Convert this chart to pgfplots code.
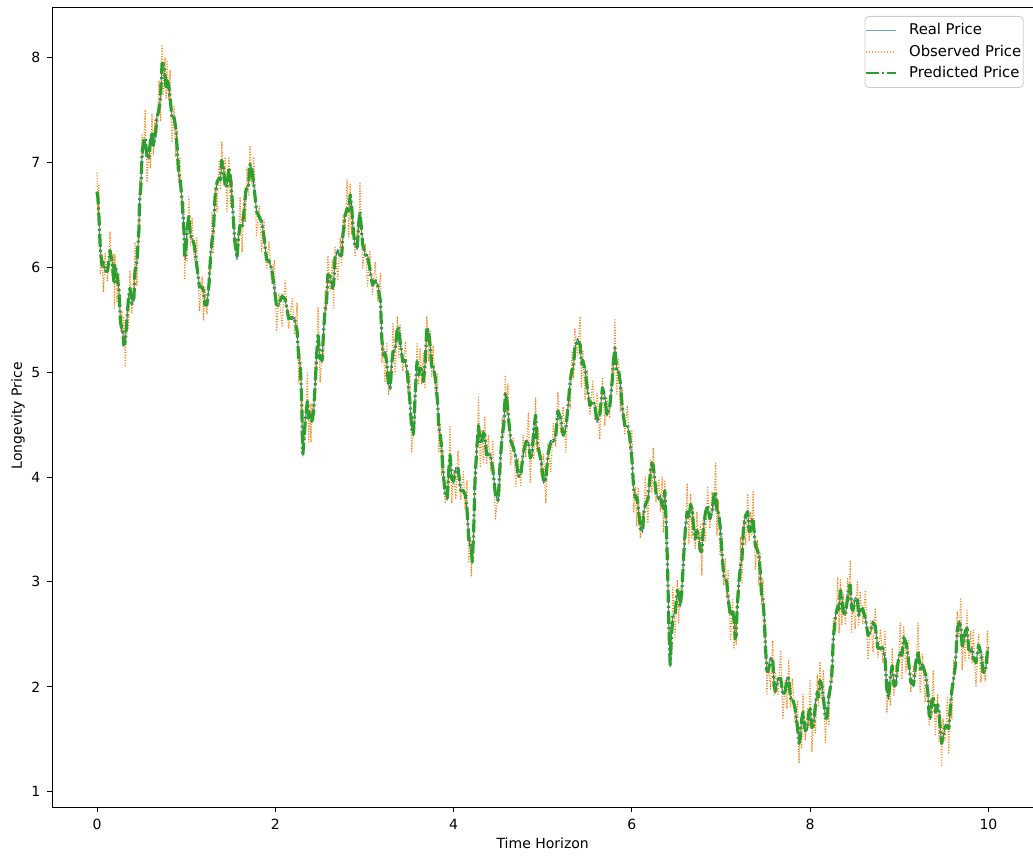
\documentclass[border=0pt]{standalone}
\usepackage{fontspec}
\setmainfont{DejaVu Sans}
\usepackage{pgfplots}
\usepackage{pgfplotstable}
\pgfplotsset{compat=1.18}

\definecolor{mplblue}{HTML}{1F77B4}
\definecolor{mplorange}{HTML}{FF7F0E}
\definecolor{mplgreen}{HTML}{2CA02C}
\definecolor{legendedge}{HTML}{CCCCCC}

% x = time, real / observed / predicted longevity price
\pgfplotstableread{
x real obs pred
0.000 6.70 6.90 6.72
0.010 6.68 6.52 6.66
0.020 6.50 6.78 6.51
0.038 6.17 5.93 6.16
0.056 6.00 6.12 6.02
0.073 6.06 5.76 6.04
0.090 5.95 6.13 5.96
0.118 5.97 5.87 5.96
0.146 6.14 6.34 6.16
0.168 6.08 5.92 6.06
0.190 5.85 6.13 5.86
0.195 5.85 5.61 5.84
0.200 6.00 6.12 6.02
0.223 5.96 5.66 5.94
0.247 5.76 5.94 5.77
0.263 5.49 5.39 5.48
0.280 5.38 5.58 5.40
0.290 5.40 5.24 5.38
0.300 5.25 5.53 5.26
0.318 5.30 5.06 5.29
0.337 5.50 5.62 5.52
0.353 5.72 5.42 5.70
0.370 5.79 5.97 5.80
0.392 5.66 5.56 5.65
0.415 5.69 5.89 5.71
0.420 5.90 5.74 5.88
0.426 5.95 6.23 5.96
0.448 6.06 5.82 6.05
0.470 6.33 6.45 6.35
0.475 6.57 6.27 6.55
0.480 6.65 6.83 6.66
0.492 6.78 6.68 6.77
0.505 7.06 7.26 7.08
0.522 7.22 7.06 7.20
0.540 7.22 7.50 7.23
0.562 7.05 6.81 7.04
0.584 7.03 7.15 7.05
0.600 7.24 6.94 7.22
0.617 7.28 7.46 7.29
0.633 7.17 7.07 7.16
0.650 7.22 7.42 7.24
0.673 7.44 7.28 7.42
0.696 7.50 7.78 7.51
0.713 7.63 7.39 7.62
0.730 7.92 8.12 7.94
0.746 7.95 7.65 7.93
0.763 7.82 8.00 7.83
0.775 7.71 7.61 7.70
0.786 7.76 7.96 7.78
0.803 7.76 7.60 7.74
0.820 7.60 7.88 7.61
0.842 7.43 7.19 7.42
0.864 7.41 7.53 7.43
0.882 7.35 7.05 7.33
0.900 7.12 7.30 7.13
0.915 6.90 6.80 6.89
0.930 6.84 7.04 6.86
0.953 6.67 6.51 6.65
0.976 6.33 6.61 6.34
0.983 6.12 5.88 6.11
0.990 6.07 6.19 6.09
1.010 6.36 6.06 6.34
1.030 6.49 6.67 6.50
1.048 6.30 6.20 6.29
1.066 6.27 6.47 6.29
1.093 6.22 6.06 6.20
1.120 6.00 6.28 6.01
1.150 5.82 5.58 5.81
1.180 5.79 5.91 5.81
1.195 5.79 5.49 5.77
1.210 5.63 5.81 5.64
1.233 5.65 5.55 5.64
1.257 5.82 6.02 5.84
1.273 6.11 5.95 6.09
1.290 6.24 6.52 6.25
1.307 6.37 6.13 6.36
1.324 6.65 6.77 6.67
1.347 6.83 6.53 6.81
1.370 6.84 7.02 6.85
1.385 6.84 6.74 6.83
1.400 7.00 7.20 7.02
1.418 6.97 6.81 6.95
1.437 6.77 7.05 6.78
1.458 6.77 6.53 6.76
1.480 6.93 7.05 6.95
1.497 6.87 6.57 6.85
1.515 6.65 6.83 6.66
1.543 6.28 6.18 6.27
1.570 6.07 6.27 6.09
1.588 6.31 6.15 6.29
1.605 6.39 6.67 6.40
1.628 6.38 6.14 6.37
1.650 6.52 6.64 6.54
1.667 6.73 6.43 6.71
1.683 6.77 6.95 6.78
1.700 6.79 6.69 6.78
1.717 6.96 7.16 6.98
1.738 6.95 6.79 6.93
1.760 6.77 7.05 6.78
1.790 6.54 6.30 6.53
1.820 6.46 6.58 6.48
1.847 6.45 6.15 6.43
1.874 6.27 6.45 6.28
1.902 6.08 5.98 6.07
1.930 6.04 6.24 6.06
1.960 6.00 5.84 5.98
1.990 5.79 6.07 5.80
2.015 5.63 5.39 5.62
2.040 5.63 5.75 5.65
2.075 5.74 5.44 5.72
2.110 5.69 5.87 5.70
2.150 5.52 5.42 5.51
2.190 5.50 5.70 5.52
2.218 5.52 5.36 5.50
2.245 5.38 5.66 5.39
2.263 5.14 4.90 5.13
2.280 5.05 5.17 5.07
2.290 4.90 4.60 4.88
2.300 4.58 4.76 4.59
2.305 4.31 4.21 4.30
2.310 4.20 4.40 4.22
2.335 4.54 4.38 4.52
2.360 4.71 4.99 4.72
2.375 4.57 4.33 4.56
2.390 4.58 4.70 4.60
2.400 4.63 4.33 4.61
2.410 4.52 4.70 4.53
2.430 4.63 4.53 4.62
2.450 4.90 5.10 4.92
2.465 5.20 5.04 5.18
2.480 5.34 5.62 5.35
2.503 5.14 4.90 5.13
2.525 5.09 5.21 5.11
2.543 5.43 5.13 5.41
2.560 5.60 5.78 5.61
2.575 5.68 5.58 5.67
2.590 5.91 6.11 5.93
2.615 5.93 5.77 5.91
2.640 5.79 6.07 5.80
2.655 5.85 5.61 5.84
2.670 6.07 6.19 6.09
2.700 6.17 5.87 6.15
2.730 6.10 6.28 6.11
2.745 6.12 6.02 6.11
2.760 6.30 6.50 6.32
2.783 6.51 6.35 6.49
2.806 6.55 6.83 6.56
2.823 6.53 6.29 6.52
2.840 6.67 6.79 6.69
2.855 6.61 6.31 6.59
2.870 6.39 6.57 6.40
2.895 6.20 6.10 6.19
2.920 6.17 6.37 6.19
2.935 6.43 6.27 6.41
2.950 6.52 6.80 6.53
2.980 6.23 5.99 6.22
3.010 6.10 6.22 6.12
3.035 6.12 5.82 6.10
3.060 5.98 6.16 5.99
3.090 5.84 5.74 5.83
3.120 5.85 6.05 5.87
3.150 5.84 5.68 5.82
3.180 5.66 5.94 5.67
3.195 5.33 5.09 5.32
3.210 5.15 5.27 5.17
3.230 5.20 4.90 5.18
3.250 5.09 5.27 5.10
3.270 4.88 4.78 4.87
3.290 4.83 5.03 4.85
3.305 5.09 4.93 5.07
3.320 5.18 5.46 5.19
3.345 5.22 4.98 5.21
3.370 5.41 5.53 5.43
3.385 5.43 5.13 5.41
3.400 5.28 5.46 5.29
3.430 5.11 5.01 5.10
3.460 5.09 5.29 5.11
3.485 4.98 4.82 4.96
3.510 4.71 4.99 4.72
3.530 4.47 4.23 4.46
3.550 4.39 4.51 4.41
3.570 4.82 4.52 4.80
3.590 5.09 5.27 5.10
3.608 4.98 4.88 4.97
3.625 5.02 5.22 5.04
3.643 5.04 4.88 5.02
3.660 4.90 5.18 4.91
3.680 5.08 4.84 5.07
3.700 5.41 5.53 5.43
3.720 5.40 5.10 5.38
3.740 5.22 5.40 5.23
3.755 5.06 4.96 5.05
3.770 5.05 5.25 5.07
3.795 4.96 4.80 4.94
3.820 4.71 4.99 4.72
3.835 4.47 4.23 4.46
3.850 4.39 4.51 4.41
3.865 4.31 4.01 4.29
3.880 4.07 4.25 4.08
3.905 3.85 3.75 3.84
3.930 3.78 3.98 3.80
3.945 4.07 3.91 4.05
3.960 4.20 4.48 4.21
3.980 3.99 3.75 3.98
4.000 3.94 4.06 3.96
4.025 4.09 3.79 4.07
4.050 4.07 4.25 4.08
4.080 3.88 3.78 3.87
4.110 3.85 4.05 3.87
4.130 3.85 3.69 3.83
4.150 3.69 3.97 3.70
4.170 3.42 3.18 3.41
4.190 3.31 3.43 3.33
4.200 3.33 3.05 3.31
4.210 3.18 3.36 3.19
4.225 3.48 3.38 3.47
4.240 3.94 4.14 3.96
4.260 4.29 4.13 4.27
4.280 4.48 4.76 4.49
4.300 4.33 4.09 4.32
4.320 4.33 4.45 4.35
4.335 4.44 4.14 4.42
4.350 4.39 4.57 4.40
4.370 4.22 4.12 4.21
4.390 4.20 4.40 4.22
4.415 4.22 4.06 4.20
4.440 4.07 4.35 4.08
4.470 3.84 3.60 3.83
4.500 3.76 3.88 3.78
4.523 4.16 3.86 4.14
4.545 4.39 4.57 4.40
4.563 4.50 4.40 4.49
4.580 4.77 4.97 4.79
4.595 4.77 4.61 4.75
4.610 4.61 4.89 4.62
4.640 4.36 4.12 4.35
4.670 4.26 4.38 4.28
4.698 4.21 3.91 4.19
4.725 4.00 4.18 4.01
4.753 4.02 3.92 4.01
4.780 4.20 4.40 4.22
4.810 4.35 4.19 4.33
4.840 4.33 4.61 4.34
4.860 4.19 3.95 4.18
4.880 4.20 4.32 4.22
4.900 4.47 4.17 4.45
4.920 4.58 4.76 4.59
4.935 4.34 4.24 4.33
4.950 4.26 4.46 4.28
4.980 4.18 4.02 4.16
5.010 3.94 4.22 3.95
5.035 3.99 3.75 3.98
5.060 4.20 4.32 4.22
5.090 4.35 4.05 4.33
5.120 4.33 4.51 4.34
5.145 4.39 4.29 4.38
5.170 4.61 4.81 4.63
5.200 4.58 4.42 4.56
5.230 4.39 4.67 4.40
5.260 4.47 4.23 4.46
5.290 4.71 4.83 4.73
5.310 4.95 4.65 4.93
5.330 5.02 5.20 5.03
5.345 5.04 4.94 5.03
5.360 5.22 5.42 5.24
5.390 5.32 5.16 5.30
5.420 5.25 5.53 5.26
5.435 5.09 4.85 5.08
5.450 5.09 5.21 5.11
5.475 5.04 4.74 5.02
5.500 4.83 5.01 4.84
5.530 4.69 4.59 4.68
5.560 4.71 4.91 4.73
5.585 4.70 4.54 4.68
5.610 4.52 4.80 4.53
5.640 4.60 4.36 4.59
5.670 4.83 4.95 4.85
5.695 4.79 4.49 4.77
5.720 4.58 4.76 4.59
5.750 4.66 4.56 4.65
5.780 4.90 5.10 4.92
5.795 5.14 4.98 5.12
5.810 5.22 5.50 5.23
5.830 5.03 4.79 5.02
5.850 5.00 5.12 5.02
5.870 4.92 4.62 4.90
5.890 4.67 4.85 4.68
5.920 4.50 4.40 4.49
5.950 4.48 4.68 4.50
5.975 4.41 4.25 4.39
6.000 4.17 4.45 4.18
6.020 3.90 3.66 3.89
6.040 3.78 3.90 3.80
6.055 3.83 3.53 3.81
6.070 3.72 3.90 3.73
6.095 3.52 3.42 3.51
6.120 3.47 3.67 3.49
6.135 3.68 3.52 3.66
6.150 3.72 4.00 3.73
6.180 3.80 3.56 3.79
6.210 4.04 4.16 4.06
6.225 4.15 3.85 4.13
6.240 4.10 4.28 4.11
6.270 3.86 3.76 3.85
6.300 3.78 3.98 3.80
6.320 3.83 3.67 3.81
6.340 3.72 4.00 3.73
6.355 3.71 3.47 3.70
6.370 3.85 3.97 3.87
6.385 3.58 3.28 3.56
6.400 3.15 3.33 3.16
6.415 2.59 2.49 2.58
6.430 2.19 2.39 2.21
6.445 2.51 2.35 2.49
6.460 2.67 2.95 2.68
6.485 2.71 2.47 2.70
6.510 2.90 3.02 2.92
6.525 2.91 2.61 2.89
6.540 2.76 2.94 2.77
6.560 2.91 2.81 2.90
6.580 3.21 3.41 3.23
6.600 3.52 3.36 3.50
6.620 3.66 3.94 3.67
6.640 3.61 3.37 3.60
6.660 3.72 3.84 3.74
6.675 3.71 3.41 3.69
6.690 3.53 3.71 3.54
6.710 3.42 3.32 3.41
6.730 3.47 3.67 3.49
6.750 3.46 3.30 3.44
6.770 3.28 3.56 3.29
6.785 3.30 3.06 3.29
6.800 3.47 3.59 3.49
6.825 3.68 3.38 3.66
6.850 3.72 3.90 3.73
6.875 3.61 3.51 3.60
6.900 3.66 3.86 3.68
6.920 3.84 3.68 3.82
6.940 3.85 4.13 3.86
6.955 3.68 3.44 3.67
6.970 3.66 3.78 3.68
6.990 3.55 3.25 3.53
7.010 3.28 3.46 3.29
7.030 3.07 2.97 3.06
7.050 3.02 3.22 3.04
7.065 3.01 2.85 2.99
7.080 2.83 3.11 2.84
7.105 2.69 2.45 2.68
7.130 2.71 2.83 2.73
7.145 2.66 2.36 2.64
7.160 2.45 2.63 2.46
7.170 2.50 2.40 2.49
7.180 2.71 2.91 2.73
7.200 3.01 2.85 2.99
7.220 3.15 3.43 3.16
7.235 3.23 2.99 3.22
7.250 3.47 3.59 3.49
7.275 3.65 3.35 3.63
7.300 3.66 3.84 3.67
7.315 3.49 3.39 3.48
7.330 3.47 3.67 3.49
7.345 3.61 3.45 3.59
7.360 3.59 3.87 3.60
7.385 3.36 3.12 3.35
7.410 3.28 3.40 3.30
7.425 3.27 2.97 3.25
7.440 3.09 3.27 3.10
7.455 2.88 2.78 2.87
7.470 2.83 3.03 2.85
7.485 2.67 2.51 2.65
7.500 2.35 2.63 2.36
7.515 2.16 1.92 2.15
7.530 2.13 2.25 2.15
7.555 2.28 1.98 2.26
7.580 2.26 2.44 2.27
7.595 2.02 1.92 2.01
7.610 1.94 2.14 1.96
7.640 2.09 1.93 2.07
7.670 2.07 2.35 2.08
7.695 1.93 1.69 1.92
7.720 1.94 2.06 1.96
7.740 2.09 1.79 2.07
7.760 2.07 2.25 2.08
7.780 1.90 1.80 1.89
7.800 1.88 2.08 1.90
7.830 1.82 1.66 1.80
7.860 1.59 1.87 1.60
7.875 1.47 1.27 1.46
7.890 1.50 1.62 1.52
7.905 1.71 1.41 1.69
7.920 1.75 1.93 1.76
7.945 1.59 1.49 1.58
7.970 1.59 1.79 1.61
7.985 1.77 1.61 1.75
8.000 1.78 2.06 1.79
8.020 1.62 1.38 1.61
8.040 1.62 1.74 1.64
8.060 1.86 1.56 1.84
8.080 1.94 2.12 1.95
8.095 1.91 1.81 1.90
8.110 2.04 2.24 2.06
8.130 2.04 1.88 2.02
8.150 1.88 2.16 1.89
8.170 1.71 1.47 1.70
8.190 1.69 1.81 1.71
8.210 1.93 1.63 1.91
8.230 2.00 2.18 2.01
8.245 2.15 2.05 2.14
8.260 2.45 2.65 2.47
8.285 2.69 2.53 2.67
8.310 2.76 3.04 2.77
8.325 2.75 2.51 2.74
8.340 2.90 3.02 2.92
8.355 2.89 2.59 2.87
8.370 2.71 2.89 2.72
8.395 2.69 2.59 2.68
8.420 2.83 3.03 2.85
8.435 2.98 2.82 2.96
8.450 2.96 3.20 2.97
8.465 2.76 2.52 2.75
8.480 2.71 2.83 2.73
8.505 2.85 2.55 2.83
8.530 2.83 3.01 2.84
8.545 2.69 2.59 2.68
8.560 2.71 2.91 2.73
8.590 2.76 2.60 2.74
8.620 2.64 2.92 2.65
8.650 2.50 2.26 2.49
8.680 2.52 2.64 2.54
8.705 2.63 2.33 2.61
8.730 2.57 2.75 2.58
8.760 2.38 2.28 2.37
8.790 2.35 2.55 2.37
8.815 2.39 2.23 2.37
8.840 2.26 2.54 2.27
8.860 1.99 1.75 1.98
8.880 1.88 2.00 1.90
8.900 2.12 1.82 2.10
8.920 2.19 2.37 2.20
8.940 2.02 1.92 2.01
8.960 2.00 2.20 2.02
8.985 2.25 2.09 2.23
9.010 2.33 2.61 2.34
9.030 2.31 2.07 2.30
9.050 2.45 2.57 2.47
9.075 2.44 2.14 2.42
9.100 2.26 2.44 2.27
9.130 2.05 1.95 2.04
9.160 2.00 2.20 2.02
9.185 2.25 2.09 2.23
9.210 2.33 2.61 2.34
9.235 2.18 1.94 2.17
9.260 2.19 2.31 2.21
9.290 2.15 1.85 2.13
9.320 1.94 2.12 1.95
9.335 1.74 1.64 1.73
9.350 1.69 1.89 1.71
9.365 1.87 1.71 1.85
9.380 1.88 2.16 1.89
9.405 1.77 1.53 1.76
9.430 1.81 1.93 1.83
9.445 1.78 1.48 1.76
9.460 1.59 1.77 1.60
9.475 1.47 1.25 1.46
9.490 1.50 1.70 1.52
9.515 1.64 1.48 1.62
9.540 1.62 1.90 1.63
9.555 1.61 1.37 1.60
9.570 1.75 1.87 1.77
9.590 1.99 1.69 1.97
9.610 2.07 2.25 2.08
9.630 2.22 2.12 2.21
9.650 2.52 2.72 2.54
9.670 2.63 2.47 2.61
9.690 2.57 2.85 2.58
9.705 2.40 2.16 2.39
9.720 2.38 2.50 2.40
9.740 2.55 2.25 2.53
9.760 2.55 2.73 2.56
9.780 2.36 2.26 2.35
9.800 2.33 2.53 2.35
9.815 2.38 2.22 2.36
9.830 2.26 2.54 2.27
9.860 2.24 2.00 2.23
9.890 2.38 2.50 2.40
9.915 2.34 2.04 2.32
9.940 2.13 2.31 2.14
9.965 2.15 2.05 2.14
9.990 2.33 2.53 2.35
10.000 2.38 2.22 2.36
}\prices

\begin{document}
\begin{tikzpicture}
\begin{axis}[
    scale only axis,
    width=490pt, height=399.5pt,
    xmin=-0.5, xmax=10.5,
    ymin=0.85, ymax=8.47,
    xtick={0,2,4,6,8,10},
    ytick={1,2,...,8},
    tick pos=left,
    tick align=outside,
    major tick length=2.5pt,
    tick style={black, line width=0.4pt},
    axis line style={black, line width=0.5pt},
    /pgf/number format/assume math mode=true,
    tick label style={font=\fontsize{7}{8.4}\selectfont},
    label style={font=\fontsize{7}{8.4}\selectfont},
    xlabel={Time Horizon},
    ylabel={Longevity Price},
    xlabel style={at={(axis description cs:0.5,-0.0444)}, anchor=center},
    ylabel style={at={(axis description cs:-0.0351,0.49)}, anchor=center},
    no markers,
    line join=round,
    legend style={
        at={(0.9904,0.99)}, anchor=north east,
        draw=legendedge, rounded corners=2pt,
        fill=white, fill opacity=0.8, text opacity=1,
        font=\fontsize{7.4}{8.4}\selectfont,
        row sep=-0.4pt, cells={anchor=west},
        inner xsep=0pt, inner ysep=1.5pt,
        nodes={inner xsep=1pt},
    },
    legend image code/.code={\draw[#1] (0pt,0pt) -- (15pt,0pt); \path (20pt,0pt);},
]
\addplot[mplblue, line width=0.5pt, forget plot] table[x=x, y=real] {\prices};
\addplot[mplorange, line width=0.6pt, forget plot,
    dash pattern=on 0.5pt off 0.83pt] table[x=x, y=obs] {\prices};
% the band is drawn thicker than its legend sample
\addplot[mplgreen, line width=1.6pt, forget plot,
    dash pattern=on 6.4pt off 1.6pt on 1pt off 1.6pt] table[x=x, y=pred] {\prices};

\addlegendimage{mplblue!65!white, line width=0.7pt}
\addlegendentry{Real Price}
\addlegendimage{mplorange!75!white, line width=0.7pt, dash pattern=on 0.6pt off 0.9pt}
\addlegendentry{Observed Price}
\addlegendimage{mplgreen, line width=1pt,
    dash pattern=on 6.4pt off 1.6pt on 1pt off 1.6pt}
\addlegendentry{Predicted Price}
\end{axis}
\pgfresetboundingbox
\path ([xshift=-26.2pt,yshift=-24.5pt]current axis.south west)
    rectangle ([yshift=4pt]current axis.north east);
\end{tikzpicture}
\end{document}
